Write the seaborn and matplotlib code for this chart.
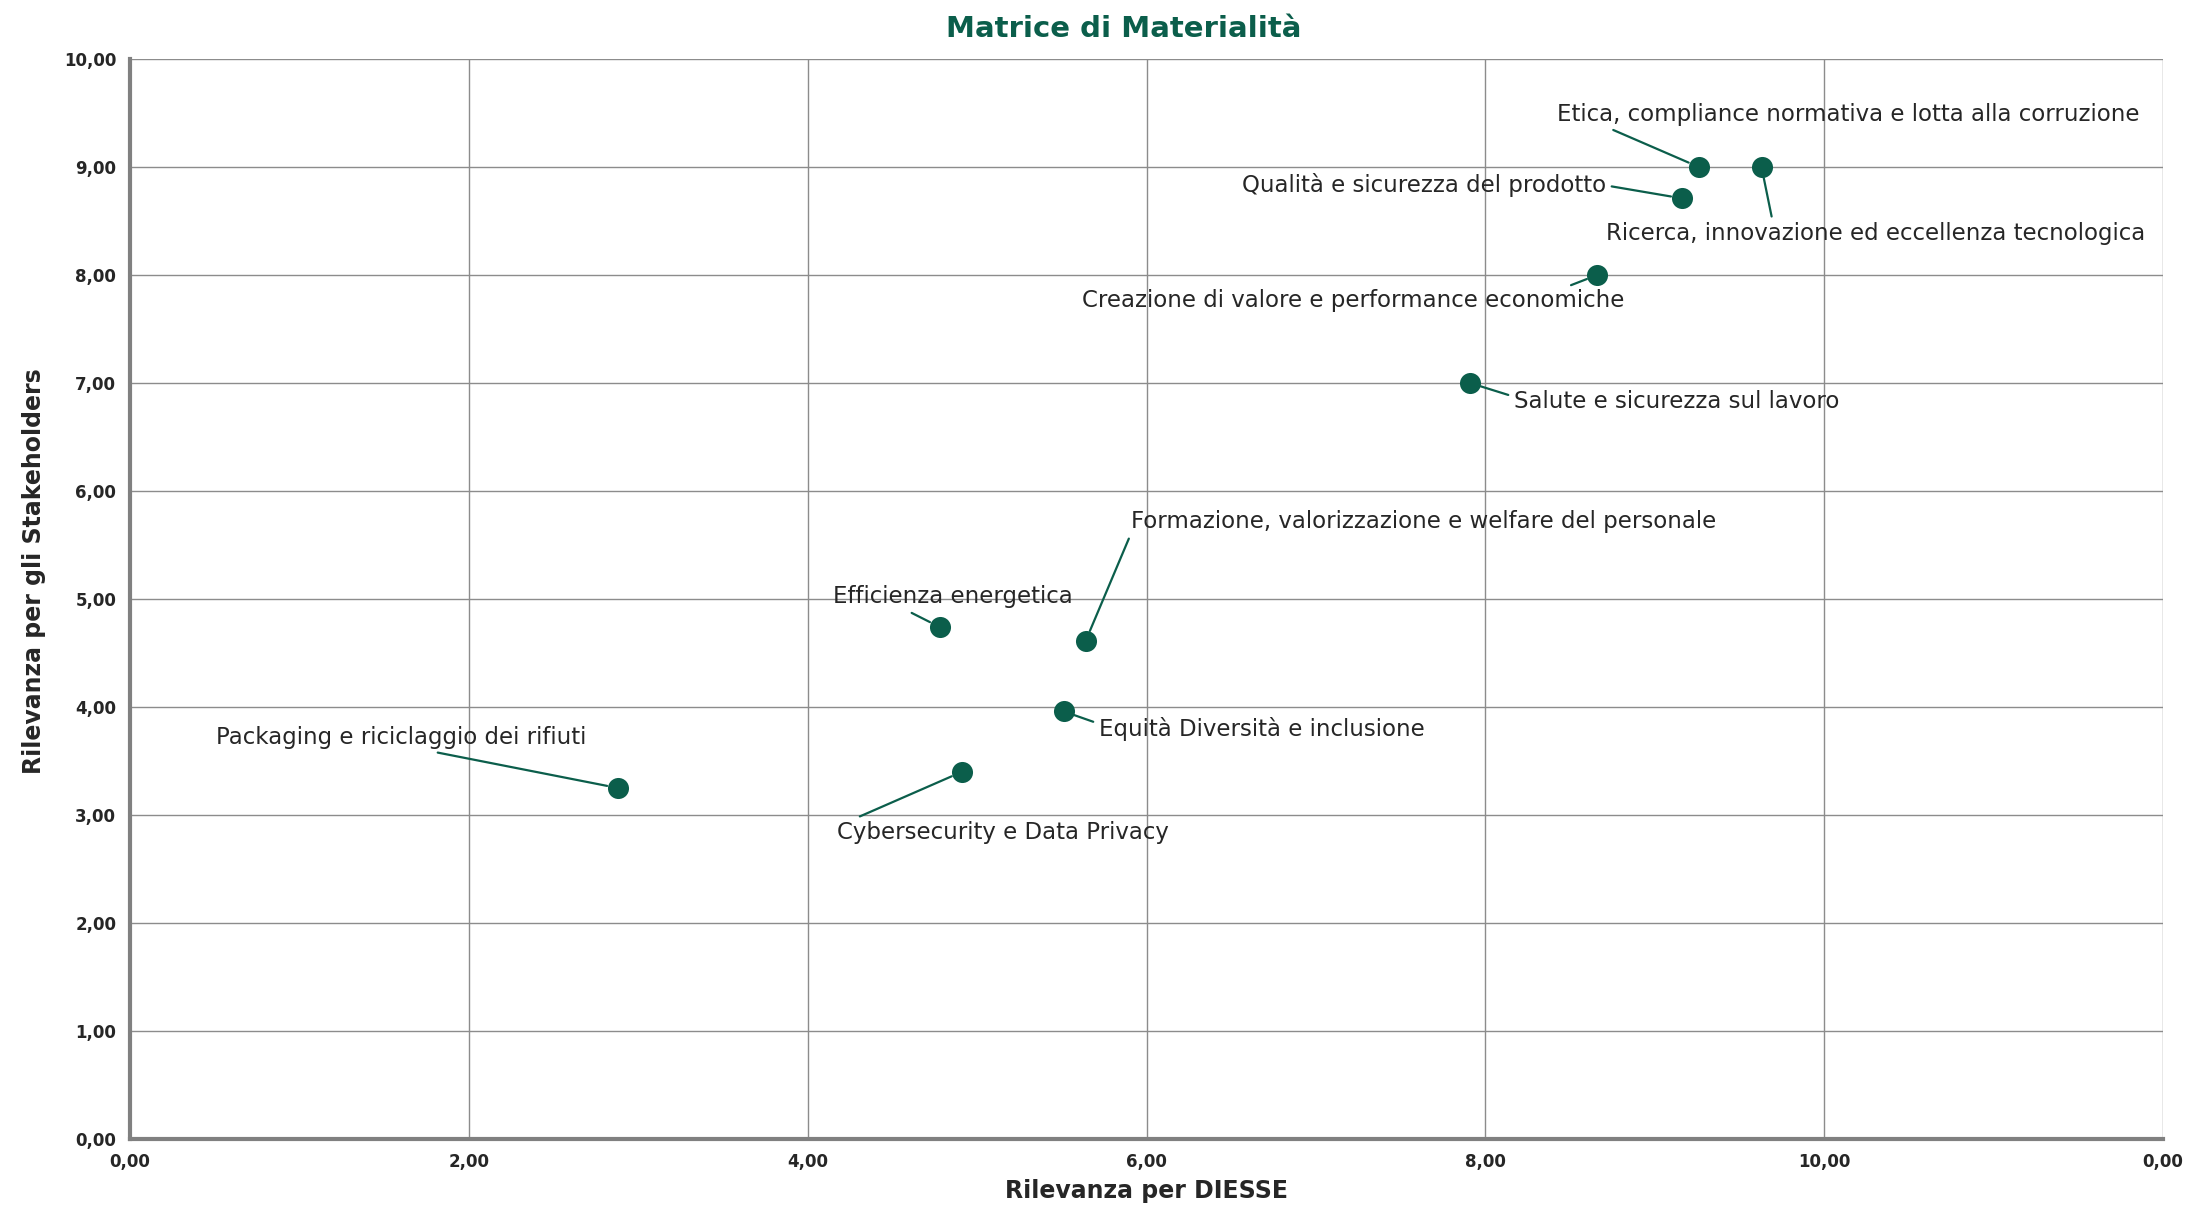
import pandas as pd
import seaborn as sns
import matplotlib.pyplot as plt

sns.set_style("whitegrid")
plt.rcParams["font.family"] = ["DejaVu Sans"]

# data
temi = [
    "Etica, compliance normativa e lotta alla corruzione",
    "Ricerca, innovazione ed eccellenza tecnologica",
    "Qualità e sicurezza del prodotto",
    "Creazione di valore e performance economiche",
    "Salute e sicurezza sul lavoro",
    "Formazione, valorizzazione e welfare del personale",
    "Efficienza energetica",
    "Equità Diversità e inclusione",
    "Cybersecurity e Data Privacy",
    "Packaging e riciclaggio dei rifiuti",
]
rilevanza_diesse = [9.26, 9.63, 9.16, 8.66, 7.91, 5.64, 4.78, 5.51, 4.91, 2.88]
rilevanza_stakeholders = [9.00, 9.00, 8.71, 8.00, 7.00, 4.61, 4.74, 3.96, 3.40, 3.25]

x_ticks = [0, 2, 4, 6, 8, 10, 12]
x_ticklabels = ["0,00", "2,00", "4,00", "6,00", "8,00", "10,00", "0,00"]
y_ticks = list(range(0, 11))
y_ticklabels = ["%d,00" % v for v in y_ticks]

# label placement: (x, y, ha, relpos of leader on text box)
label_pos = [
    (8.42, 9.49, "left", (0.08, 0.0)),
    (8.71, 8.38, "left", (0.31, 1.0)),
    (8.71, 8.83, "right", (1.0, 0.5)),
    (5.62, 7.76, "left", (0.87, 0.9)),
    (8.17, 6.83, "left", (0.0, 0.7)),
    (5.91, 5.72, "left", (0.0, 0.0)),
    (4.15, 5.02, "left", (0.29, 0.0)),
    (5.72, 3.80, "left", (0.0, 0.7)),
    (4.17, 2.84, "left", (0.04, 1.0)),
    (0.51, 3.72, "left", (0.545, 0.0)),
]

green = "#0b5e4b"
grey = "#808080"
txt = "#262626"

df = pd.DataFrame({"tema": temi, "x": rilevanza_diesse, "y": rilevanza_stakeholders})

fig = plt.figure(figsize=(21.86, 12.07), dpi=100)
ax = fig.add_axes([0.0595, 0.0563, 0.93, 0.8948])
sns.scatterplot(data=df, x="x", y="y", color=green, s=230, edgecolor=green, linewidth=0, ax=ax, zorder=3)

for t, xv, yv, (lx, ly, ha, rp) in zip(temi, rilevanza_diesse, rilevanza_stakeholders, label_pos):
    ax.annotate(t, xy=(xv, yv), xytext=(lx, ly), ha=ha, va="center",
                fontsize=16.5, color=txt,
                arrowprops=dict(arrowstyle="-", color=green, lw=1.6, relpos=rp,
                                shrinkA=2, shrinkB=8))

ax.set_xlim(0, 12)
ax.set_ylim(0, 10)
ax.set_xticks(x_ticks)
ax.set_xticklabels(x_ticklabels)
ax.set_yticks(y_ticks)
ax.set_yticklabels(y_ticklabels)
ax.tick_params(axis="both", labelsize=12, colors=txt, length=6, width=1.2, color=grey, pad=4)
for lab in ax.get_xticklabels() + ax.get_yticklabels():
    lab.set_fontweight("semibold")

ax.grid(True, color="#8c8c8c", linewidth=1.0)
for side in ["top", "right"]:
    ax.spines[side].set_visible(False)
for side in ["left", "bottom"]:
    ax.spines[side].set_color(grey)
    ax.spines[side].set_linewidth(3)

ax.set_xlabel("Rilevanza per DIESSE", fontsize=17, color=txt, fontweight="semibold", labelpad=6)
ax.set_ylabel("Rilevanza per gli Stakeholders", fontsize=17, color=txt, fontweight="semibold")
ax.yaxis.set_label_coords(-0.0413, 0.526)
fig.text(0.514, 0.976, "Matrice di Materialità", ha="center", va="center",
         fontsize=21, fontweight="bold", color=green)

fig.savefig("out.png", dpi=100)
